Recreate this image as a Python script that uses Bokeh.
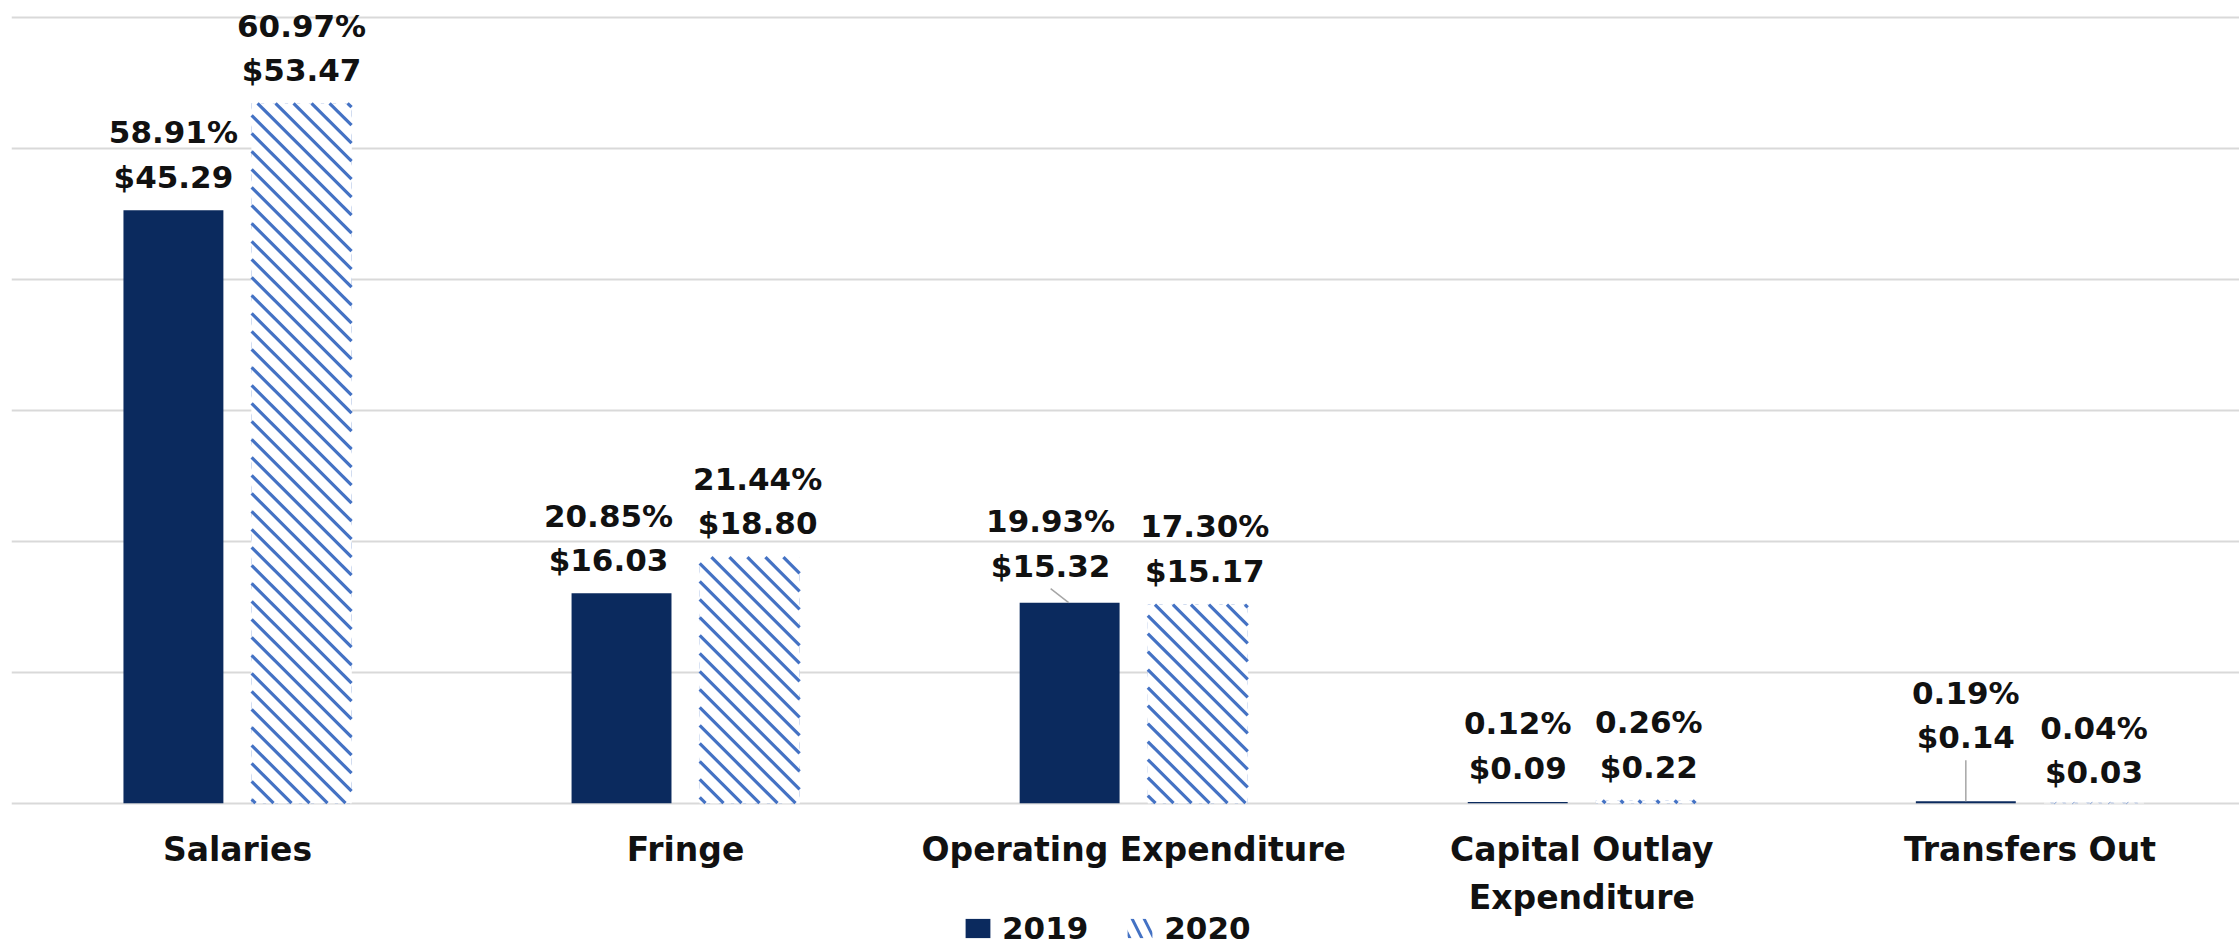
import math
from bokeh.plotting import figure
from bokeh.models import Range1d, FixedTicker, Legend, LegendItem
from bokeh.core.properties import value
from bokeh.embed import file_html
from bokeh.resources import INLINE

# ---------------- data ----------------
categories = ["Salaries", "Fringe", "Operating Expenditure",
              "Capital Outlay\nExpenditure", "Transfers Out"]
years = ["2019", "2020"]
amount_2019 = [45.29, 16.03, 15.32, 0.09, 0.14]
amount_2020 = [53.47, 18.80, 15.17, 0.22, 0.03]
share_2019 = [58.91, 20.85, 19.93, 0.12, 0.19]
share_2020 = [60.97, 21.44, 17.30, 0.26, 0.04]
grid_ticks = [0, 10, 20, 30, 40, 50, 60]

# ---------------- layout / style ----------------
W, H = 2239, 946
LEFT = 11
BASE_PX = 802.7          # page y of the zero line
PX_Y = (802.7 - 17.3) / 60.0
Y_START = -(H - BASE_PX) / PX_Y
Y_END = BASE_PX / PX_Y
CAT0_PX, CAT_STEP = 237.0, 448.1
X_START = (LEFT - CAT0_PX) / CAT_STEP
X_END = (W - CAT0_PX) / CAT_STEP
PX_X = CAT_STEP

NAVY = "#0B2A5E"
BLUE = "#4472C4"
GRID = "#d9d9d9"
FONT = "DejaVu Sans"
TXT = "#111111"

BAR_W = 0.223
OFF = 0.143
STRIPE_STEP = 18.0     # px, horizontal spacing of the 45deg stripes
STRIPE_W = 3.2

# label tweaks (pixels): horizontal shift, lift of the $ line / % line above bar top
DX_2019 = [0, -13, -19, 0, 0]
DX_2020 = [0, 8, 7, 3, 0]
LIFT_D_2019 = [33, 33, 37, 34, 64]
LIFT_P_2019 = [78, 77, 82, 79, 108]
LIFT_D_2020 = [33, 34, 34, 33, 31]
LIFT_P_2020 = [77, 78, 79, 78, 75]
CAT_LINE1, CAT_LINE_STEP = 46, 48   # px below zero line

idx = list(range(len(categories)))
x19 = [i - OFF for i in idx]
x20 = [i + OFF for i in idx]

p = figure(width=W, height=H,
           x_range=Range1d(X_START, X_END), y_range=Range1d(Y_START, Y_END),
           output_backend="svg", toolbar_location=None,
           x_axis_location=None, y_axis_location=None,
           min_border_left=LEFT, min_border_right=0, min_border_top=0,
           min_border_bottom=0, outline_line_color=None,
           background_fill_color="white", border_fill_color="white")

p.ygrid.ticker = FixedTicker(ticks=grid_ticks)
p.ygrid.grid_line_color = GRID
p.ygrid.grid_line_width = 2
p.xgrid.visible = False

r19 = p.vbar(x=x19, top=amount_2019, bottom=0, width=BAR_W,
             fill_color=NAVY, line_color=None)

# hatched key renderer (used for the legend swatch; covered by the white bars)
r20_key = p.vbar(x=x20, top=amount_2020, bottom=0, width=BAR_W,
                 fill_color="white", line_color=None,
                 hatch_pattern="left_diagonal_line", hatch_color=BLUE,
                 hatch_weight=3, hatch_scale=24)
r20 = p.vbar(x=x20, top=amount_2020, bottom=0, width=BAR_W,
             fill_color="white", line_color=None)

# 45-degree "\" stripes inside each 2020 bar (computed in pixel space)
sx0, sy0, sx1, sy1 = [], [], [], []
for xc, top in zip(x20, amount_2020):
    L = (xc - BAR_W / 2) * PX_X
    R = (xc + BAR_W / 2) * PX_X
    B = 0.0
    T = top * PX_Y
    k0 = math.floor((L + B) / STRIPE_STEP)
    k1 = math.ceil((R + T) / STRIPE_STEP)
    for k in range(k0, k1 + 1):
        c = k * STRIPE_STEP
        xa = max(L, c - T)
        xb = min(R, c - B)
        if xb - xa > 0.3:
            sx0.append(xa / PX_X); sy0.append((c - xa) / PX_Y)
            sx1.append(xb / PX_X); sy1.append((c - xb) / PX_Y)
p.segment(x0=sx0, y0=sy0, x1=sx1, y1=sy1, line_color=BLUE,
          line_width=STRIPE_W)

# data labels
for xs, amts, shares, dxs, ld, lp in [
        (x19, amount_2019, share_2019, DX_2019, LIFT_D_2019, LIFT_P_2019),
        (x20, amount_2020, share_2020, DX_2020, LIFT_D_2020, LIFT_P_2020)]:
    lx = [x + dx / PX_X for x, dx in zip(xs, dxs)]
    p.text(x=lx, y=[v + l / PX_Y for v, l in zip(amts, ld)],
           text=[f"${a:.2f}" for a in amts],
           text_font=value(FONT), text_font_style="bold",
           text_font_size="31px", text_color=TXT,
           text_align="center", text_baseline="middle")
    p.text(x=lx, y=[v + l / PX_Y for v, l in zip(amts, lp)],
           text=[f"{s:.2f}%" for s in shares],
           text_font=value(FONT), text_font_style="bold",
           text_font_size="31px", text_color=TXT,
           text_align="center", text_baseline="middle")

# leader lines (Operating 2019, Transfers 2019)
p.segment(x0=[x19[2] - 19 / PX_X, x19[4]],
          y0=[amount_2019[2] + 14 / PX_Y, amount_2019[4] + 41 / PX_Y],
          x1=[x19[2] - 1 / PX_X, x19[4]],
          y1=[amount_2019[2], amount_2019[4]],
          line_color="#a6a6a6", line_width=1.5)

# category labels (one text per line) below the zero line
cx, cy, ct = [], [], []
for i, c in enumerate(categories):
    for k, line in enumerate(c.split("\n")):
        cx.append(i)
        cy.append(-(CAT_LINE1 + k * CAT_LINE_STEP) / PX_Y)
        ct.append(line)
p.text(x=cx, y=cy, text=ct, text_font=value(FONT), text_font_style="bold",
       text_font_size="33px", text_color=TXT,
       text_align="center", text_baseline="middle")

legend = Legend(items=[LegendItem(label=years[0], renderers=[r19]),
                       LegendItem(label=years[1], renderers=[r20_key])],
                orientation="horizontal", location=(951, 0),
                background_fill_alpha=0, border_line_color=None,
                padding=0, margin=0, spacing=36, label_standoff=9,
                glyph_width=31, glyph_height=24,
                label_text_font=FONT, label_text_font_style="bold",
                label_text_font_size="31px", label_text_color=TXT)
p.add_layout(legend)

open("out.html", "w").write(file_html(p, INLINE))
